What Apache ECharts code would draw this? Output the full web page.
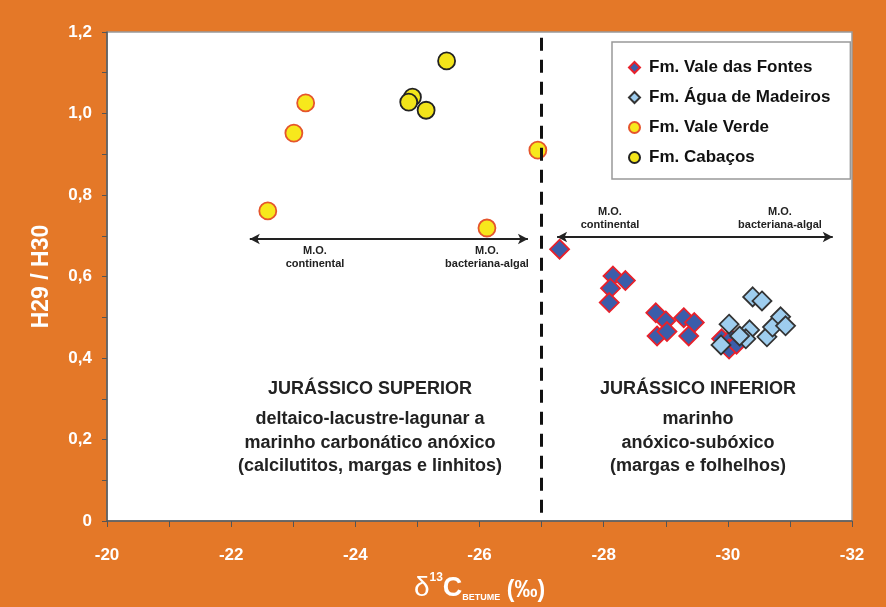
<!DOCTYPE html>
<html>
<head>
<meta charset="utf-8">
<script src="https://cdn.jsdelivr.net/npm/echarts@6/dist/echarts.min.js"></script>
<style>
  html, body { margin: 0; padding: 0; background: #e47828; }
  #chart { width: 886px; height: 607px; }
</style>
</head>
<body>
<div id="chart"></div>
<script>
// [delta13C, H29/H30]
var valeFontes = [
  [-27.29, 0.667],
  [-28.15, 0.601], [-28.35, 0.590], [-28.11, 0.571], [-28.09, 0.536],
  [-28.84, 0.511], [-29.00, 0.491], [-28.86, 0.454], [-29.02, 0.465],
  [-29.29, 0.499], [-29.46, 0.487], [-29.37, 0.454],
  [-29.90, 0.447], [-30.05, 0.447], [-30.02, 0.422], [-30.14, 0.434]
];
var aguaMadeiros = [
  [-30.02, 0.483], [-30.35, 0.469], [-30.29, 0.447], [-30.19, 0.454],
  [-29.89, 0.432], [-30.63, 0.452], [-30.72, 0.476], [-30.85, 0.501],
  [-30.93, 0.479], [-30.40, 0.550], [-30.55, 0.540]
];
var valeVerde = [
  [-22.59, 0.761], [-23.01, 0.952], [-23.20, 1.026], [-26.12, 0.719], [-26.94, 0.910]
];
var cabacos = [
  [-25.47, 1.129], [-24.92, 1.040], [-24.86, 1.028], [-25.14, 1.008]
];
var seriesNames = ['Fm. Vale das Fontes', 'Fm. Água de Madeiros', 'Fm. Vale Verde', 'Fm. Cabaços'];
var yTickLabels = {'0': '0', '0.2': '0,2', '0.4': '0,4', '0.6': '0,6', '0.8': '0,8', '1': '1,0', '1.2': '1,2'};
var xTickLabels = [-20, -22, -24, -26, -28, -30, -32];

var chart = echarts.init(document.getElementById('chart'));

var narrow = "'Liberation Sans Narrow', 'Liberation Sans', Arial, sans-serif";
var sans = "'Liberation Sans', Arial, sans-serif";

var pos = function (x, y, text, size) {
  return {
    type: 'text', x: x, y: y,
    style: {
      text: text, x: 0, y: 0, align: 'center', verticalAlign: 'middle',
      fontFamily: sans, fontSize: size, fontWeight: 'bold', fill: '#222'
    }
  };
};

var option = {
  backgroundColor: '#e47828',
  animation: false,
  grid: {
    left: 107, right: 34, top: 32, bottom: 86,
    outerBoundsMode: 'none', containLabel: false,
    show: true, backgroundColor: '#fff', borderColor: '#999', borderWidth: 1.5
  },
  legend: {
    orient: 'vertical',
    left: 612, top: 42,
    padding: [17, 20, 13, 16],
    itemGap: 13,
    itemWidth: 11, itemHeight: 11,
    backgroundColor: '#fff',
    borderColor: '#999', borderWidth: 1.5,
    textStyle: { fontFamily: sans, fontSize: 17, fontWeight: 'bold', color: '#111', padding: [0, 0, 0, 4] },
    data: seriesNames
  },
  xAxis: {
    type: 'value',
    inverse: true,
    min: -32, max: -20, interval: 1,
    splitLine: { show: false },
    axisLine: { lineStyle: { color: '#555', width: 1.5 } },
    axisTick: { length: 6, lineStyle: { color: '#555' } },
    axisLabel: {
      margin: 26, color: '#fff', fontFamily: narrow, fontSize: 17, fontWeight: 'bold',
      formatter: function (v) { return xTickLabels.indexOf(v) >= 0 ? String(v) : ''; }
    },
    name: '{d|δ}{sup|13}{c|C}{sub|BETUME}{p| (‰)}',
    nameLocation: 'middle',
    nameGap: 51,
    nameTextStyle: {
      color: '#fff',
      rich: {
        d: { fontFamily: sans, fontSize: 28, color: '#fff', verticalAlign: 'bottom', lineHeight: 30 },
        sup: { fontFamily: narrow, fontSize: 12, fontWeight: 'bold', color: '#fff', verticalAlign: 'top', lineHeight: 30 },
        c: { fontFamily: narrow, fontSize: 27, fontWeight: 'bold', color: '#fff', verticalAlign: 'bottom', lineHeight: 30 },
        sub: { fontFamily: narrow, fontSize: 9, fontWeight: 'bold', color: '#fff', verticalAlign: 'bottom', lineHeight: 22 },
        p: { fontFamily: narrow, fontSize: 23, fontWeight: 'bold', color: '#fff', verticalAlign: 'bottom', lineHeight: 30 }
      }
    }
  },
  yAxis: {
    type: 'value',
    min: 0, max: 1.2, interval: 0.1,
    splitLine: { show: false },
    axisLine: { show: true, lineStyle: { color: '#555', width: 1.5 } },
    axisTick: { show: true, length: 5, lineStyle: { color: '#555' } },
    axisLabel: {
      margin: 15, color: '#fff', fontFamily: sans, fontSize: 17, fontWeight: 'bold',
      formatter: function (v) {
        var k = String(Math.round(v * 10) / 10);
        return yTickLabels[k] !== undefined ? yTickLabels[k] : '';
      }
    },
    name: 'H29 / H30',
    nameLocation: 'middle',
    nameGap: 54,
    nameTextStyle: { color: '#fff', fontFamily: sans, fontSize: 23, fontWeight: 'bold' }
  },
  series: [
    {
      name: seriesNames[0], type: 'scatter', symbol: 'diamond', symbolSize: 19,
      itemStyle: { color: '#3b5daa', borderColor: '#e8212b', borderWidth: 1.8, opacity: 1 },
      data: valeFontes, z: 3,
      markLine: {
        silent: true, animation: false,
        label: { show: false },
        symbol: ['arrow', 'arrow'], symbolSize: [8, 10],
        lineStyle: { color: '#222', width: 2, type: 'solid' },
        data: [
          [{ coord: [-22.30, 0.692] }, { coord: [-26.78, 0.692] }],
          [{ coord: [-27.25, 0.697] }, { coord: [-31.69, 0.697] }],
          [{ coord: [-27, 0.02], symbol: 'none', lineStyle: { type: [13, 9], width: 3, color: '#111' } },
           { coord: [-27, 1.19], symbol: 'none' }]
        ]
      }
    },
    {
      name: seriesNames[1], type: 'scatter', symbol: 'diamond', symbolSize: 19,
      itemStyle: { color: '#9ecdee', borderColor: '#333', borderWidth: 1.8, opacity: 1 },
      data: aguaMadeiros, z: 4
    },
    {
      name: seriesNames[2], type: 'scatter', symbol: 'circle', symbolSize: 17,
      itemStyle: { color: '#f7e81c', borderColor: '#e5552c', borderWidth: 1.8, opacity: 1 },
      data: valeVerde
    },
    {
      name: seriesNames[3], type: 'scatter', symbol: 'circle', symbolSize: 17,
      itemStyle: { color: '#f2e41a', borderColor: '#222', borderWidth: 1.8, opacity: 1 },
      data: cabacos
    }
  ],
  graphic: [
    pos(315, 251, 'M.O.', 11), pos(315, 264, 'continental', 11),
    pos(487, 251, 'M.O.', 11), pos(487, 264, 'bacteriana-algal', 11),
    pos(610, 212, 'M.O.', 11), pos(610, 225, 'continental', 11),
    pos(780, 212, 'M.O.', 11), pos(780, 225, 'bacteriana-algal', 11),
    pos(370, 389, 'JURÁSSICO SUPERIOR', 18),
    pos(370, 419, 'deltaico-lacustre-lagunar a', 18),
    pos(370, 443, 'marinho carbonático anóxico', 18),
    pos(370, 466, '(calcilutitos, margas e linhitos)', 18),
    pos(698, 389, 'JURÁSSICO INFERIOR', 18),
    pos(698, 419, 'marinho', 18),
    pos(698, 443, 'anóxico-subóxico', 18),
    pos(698, 466, '(margas e folhelhos)', 18)
  ]
};

chart.setOption(option);
window.onresize = function () { chart.resize(); };
</script>
</body>
</html>
